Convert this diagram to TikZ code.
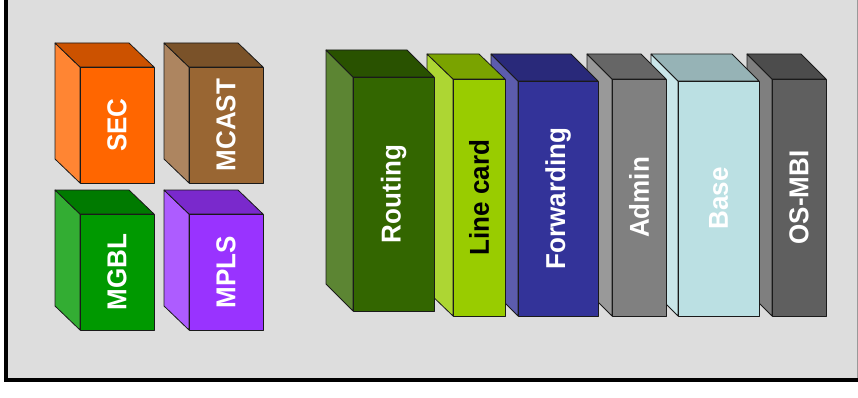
\documentclass[tikz,border=0pt]{standalone}
\usepackage{fontspec}
\setmainfont{Liberation Sans}
\definecolor{bggrey}{HTML}{DDDDDD}
\definecolor{edge}{HTML}{1A1A1A}
% SEC
\definecolor{secF}{HTML}{FF6600}\definecolor{secS}{HTML}{FF8533}\definecolor{secU}{HTML}{CC5200}\definecolor{secT}{HTML}{FFFFFF}
% MCAST
\definecolor{mcaF}{HTML}{996633}\definecolor{mcaS}{HTML}{AD8560}\definecolor{mcaU}{HTML}{7A5229}\definecolor{mcaT}{HTML}{FFFFFF}
% MGBL
\definecolor{mgbF}{HTML}{009900}\definecolor{mgbS}{HTML}{33AD33}\definecolor{mgbU}{HTML}{007A00}\definecolor{mgbT}{HTML}{FFFFFF}
% MPLS
\definecolor{mplF}{HTML}{9933FF}\definecolor{mplS}{HTML}{AD5CFF}\definecolor{mplU}{HTML}{7A29CC}\definecolor{mplT}{HTML}{FFFFFF}
% Routing
\definecolor{rouF}{HTML}{336600}\definecolor{rouS}{HTML}{5C8533}\definecolor{rouU}{HTML}{295200}\definecolor{rouT}{HTML}{FFFFFF}
% Line card
\definecolor{linF}{HTML}{99CC00}\definecolor{linS}{HTML}{ADD633}\definecolor{linU}{HTML}{7AA300}\definecolor{linT}{HTML}{000000}
% Forwarding
\definecolor{forF}{HTML}{333399}\definecolor{forS}{HTML}{5C5CAD}\definecolor{forU}{HTML}{29297A}\definecolor{forT}{HTML}{FFFFFF}
% Admin
\definecolor{admF}{HTML}{808080}\definecolor{admS}{HTML}{999999}\definecolor{admU}{HTML}{666666}\definecolor{admT}{HTML}{FFFFFF}
% Base
\definecolor{basF}{HTML}{BBE0E3}\definecolor{basS}{HTML}{C9E6E9}\definecolor{basU}{HTML}{96B3B6}\definecolor{basT}{HTML}{FFFFFF}
% OS-MBI
\definecolor{osmF}{HTML}{5F5F5F}\definecolor{osmS}{HTML}{7F7F7F}\definecolor{osmU}{HTML}{4C4C4C}\definecolor{osmT}{HTML}{FFFFFF}

\tikzset{
  face/.style={draw=edge, line width=0.8pt, line join=round, inner sep=0pt, outer sep=0pt},
  label26/.style={font=\fontsize{26}{30}\selectfont\bfseries},
}
% #1 name, #2 x1, #3 y1, #4 x2, #5 y2 (front face), #6 dx, #7 dy, #8 colour prefix, #9 text
\newcommand\cubebox[9]{%
  \filldraw[face, fill=#8S] (#2,#3) -- ++(-#6,-#7) -- ++(0,{#5-#3}) -- (#2,#5) -- cycle;
  \filldraw[face, fill=#8U] (#2,#3) -- ++(-#6,-#7) -- ++({#4-#2},0) -- (#4,#3) -- cycle;
  \node[face, fill=#8F, text=#8T, label26, anchor=north west,
        minimum width={(#4-#2)*1pt}, minimum height={(#5-#3)*1pt}]
        (#1) at (#2,#3) {\rotatebox{90}{\scalebox{1}[1.05]{#9}}};
}
\begin{document}
\begin{tikzpicture}[x=1pt, y=-1pt]
  \useasboundingbox (0,0) rectangle (858,398);
  \fill[white] (0,0) rectangle (858,398);
  \fill[bggrey] (8,0) rectangle (858,378);
  \draw[gray!80, line width=0.8pt] (857.4,0) -- (857.4,378);
  \fill[black] (4,0) rectangle (8,382);
  \fill[black] (4,378) rectangle (858,382);

  % small cubes
  \cubebox{sec}{80}{67}{154}{183}{25}{24}{sec}{SEC}
  \cubebox{mcast}{189}{67}{263}{183}{25}{24}{mca}{MCAST}
  \cubebox{mgbl}{80}{214}{154}{330}{25}{24}{mgb}{MGBL}
  \cubebox{mpls}{189}{214}{263}{330}{25}{24}{mpl}{MPLS}

  % big boxes, right to left
  \cubebox{osmbi}{772}{79}{826}{316}{25}{25}{osm}{OS-MBI}
  \cubebox{base}{678}{81}{759}{316}{27}{27}{bas}{Base}
  \cubebox{admin}{612}{79}{666}{316}{25}{25}{adm}{Admin}
  \cubebox{fwd}{518}{81}{598}{316}{27}{27}{for}{Forwarding}
  \cubebox{linecard}{453}{79}{505}{316}{26}{25}{lin}{Line card}
  \cubebox{routing}{353}{77}{434}{311}{27}{27}{rou}{Routing}
\end{tikzpicture}
\end{document}
